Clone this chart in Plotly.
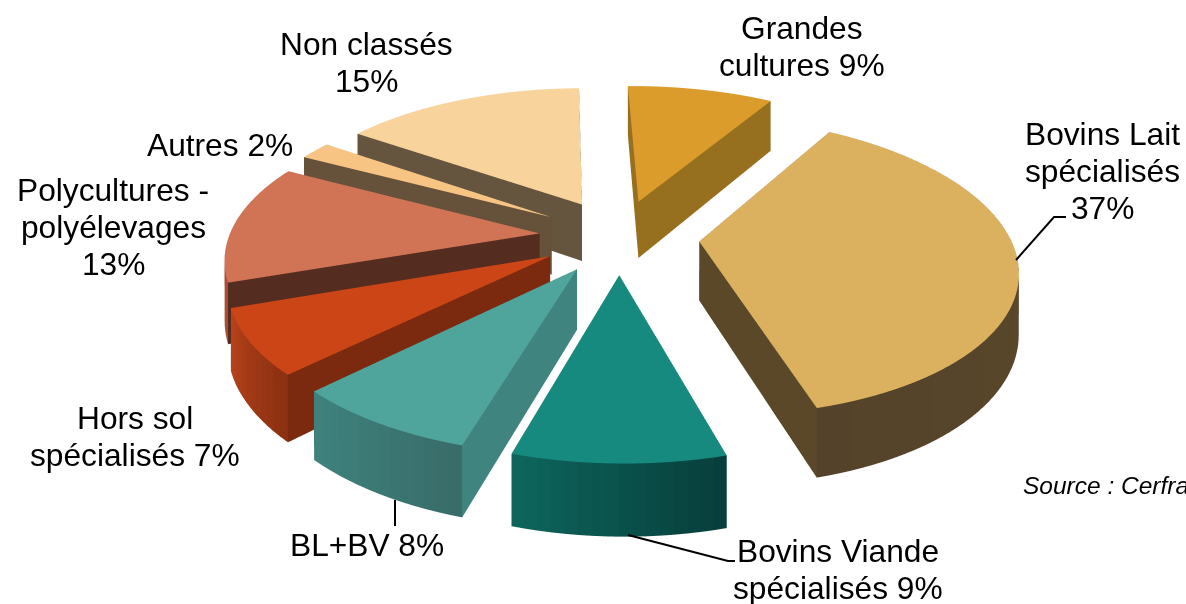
import math
import plotly.graph_objects as go

categories = ["Grandes cultures", "Bovins Lait spécialisés", "Bovins Viande spécialisés", "BL+BV",
              "Hors sol spécialisés", "Polycultures - polyélevages", "Autres", "Non classés"]
shares = [9, 37, 9, 8, 7, 13, 2, 15]
top_colors = ["#DB9C2C", "#DBB15F", "#178A80", "#4FA59C", "#CC4516", "#D17355", "#F7C484", "#F8D49C"]
cut_colors = ["#97701F", "#5A4829", "#0E5F58", "#408480", "#7C2A0F", "#552C20", "#66513A", "#66553E"]
wall_start = ["#97701F", "#5E4C2B", "#073D3A", "#386C69", "#8A3011", "#A84E34", "#B08A58", "#B09870"]
wall_end = ["#97701F", "#54432A", "#0E665D", "#3F837E", "#B8431A", "#A84E34", "#B08A58", "#B09870"]

HEIGHT = 0.04
SHEAR = 0.24
PULL = 0.258
START_DEG = -1


def rgb(h):
    return [int(h[i:i + 2], 16) for i in (1, 3, 5)]


def mix(a, b, t):
    ca, cb = rgb(a), rgb(b)
    return "rgb(%d,%d,%d)" % tuple(round(ca[i] + (cb[i] - ca[i]) * t) for i in range(3))


def wedge(a0, a1, top, cut, w0, w1):
    mid = (a0 + a1) / 2
    ox, oy = PULL * math.sin(mid), PULL * math.cos(mid)
    n = max(2, int((a1 - a0) / math.radians(2)))
    xs, ys, zs, I, J, K, fc = [], [], [], [], [], [], []

    def add(x, y, z):
        xs.append(x + ox)
        ys.append(y + oy)
        zs.append(z)
        return len(xs) - 1

    def ring(level, dy):
        c = add(0, dy, level)
        rim = [add(math.sin(a0 + (a1 - a0) * i / n), math.cos(a0 + (a1 - a0) * i / n) + dy, level) for i in range(n + 1)]
        return c, rim

    top_c, top_rim = ring(HEIGHT, 0.0)
    bot_c, bot_rim = ring(0.0, -SHEAR)
    for i in range(n):
        I.append(top_c); J.append(top_rim[i]); K.append(top_rim[i + 1]); fc.append(top)
        I.append(bot_c); J.append(bot_rim[i]); K.append(bot_rim[i + 1]); fc.append(cut)
        col = mix(w0, w1, (i + .5) / n)
        I += [top_rim[i], top_rim[i + 1]]
        J += [top_rim[i + 1], bot_rim[i + 1]]
        K += [bot_rim[i], bot_rim[i]]
        fc += [col, col]
    for r_t, r_b in ((top_rim[0], bot_rim[0]), (top_rim[-1], bot_rim[-1])):
        I += [top_c, top_c]
        J += [r_t, r_b]
        K += [r_b, bot_c]
        fc += [cut, cut]
    return xs, ys, zs, I, J, K, fc


fig = go.Figure()
total = sum(shares)
angle = math.radians(START_DEG)
for n, name in enumerate(categories):
    a1 = angle + 2 * math.pi * shares[n] / total
    x, y, z, i, j, k, fc = wedge(angle, a1, top_colors[n], cut_colors[n], wall_start[n], wall_end[n])
    fig.add_trace(go.Mesh3d(x=x, y=y, z=z, i=i, j=j, k=k, facecolor=fc, flatshading=True,
                            lighting=dict(ambient=1, diffuse=0, specular=0, roughness=1, fresnel=0),
                            name=name, hovertext=f"{name} {shares[n]}%", hoverinfo="text"))
    angle = a1

axis = dict(visible=False, range=[-1.5, 1.5], autorange=False)
fig.update_layout(
    width=1186, height=604, margin=dict(l=0, r=0, t=0, b=0), showlegend=False,
    paper_bgcolor="white",
    scene=dict(
        domain=dict(x=[0, 1], y=[0, 1]),
        xaxis=axis, yaxis=dict(axis, range=[-2, 2]), zaxis=dict(visible=False, range=[-0.48, 0.52], autorange=False),
        aspectmode="manual", aspectratio=dict(x=1.88, y=1.565, z=1.79),
        camera=dict(eye=dict(x=-0.053, y=-0.9916, z=1.131), center=dict(x=-0.053, y=-0.0886, z=-0.067),
                    up=dict(x=0, y=0, z=1), projection=dict(type="perspective")),
    ),
)

W, H = 1186, 604
LINE = 37
labels = [
    (["Grandes", "cultures 9%"], 802, 28),
    (["Bovins Lait", "spécialisés", "37%"], 1102, 134),
    (["Bovins Viande", "spécialisés 9%"], 838, 551),
    (["BL+BV 8%"], 367, 545),
    (["Hors sol", "spécialisés 7%"], 135, 418),
    (["Polycultures -", "polyélevages", "13%"], 113, 190),
    (["Autres 2%"], 220, 145),
    (["Non classés", "15%"], 366, 44),
]
for lines, px, py in labels:
    for m, text in enumerate(lines):
        fig.add_annotation(text=text, x=px / W, y=1 - (py + m * LINE) / H, xref="paper", yref="paper",
                           showarrow=False, xanchor="center", yanchor="middle", align="center",
                           font=dict(family="Liberation Sans", size=31.7, color="black"))
fig.add_annotation(text="<i>Source : Cerfrance</i>", x=1021 / W, y=1 - 485 / H, xref="paper", yref="paper",
                   showarrow=False, xanchor="left", yanchor="middle",
                   font=dict(family="Liberation Sans", size=24.5, color="black"))

leaders = [[(1016, 260), (1054, 217), (1066, 217)], [(628, 535), (728, 561), (735, 561)], [(395, 500), (395, 526)]]
for pts in leaders:
    path = "M " + " L ".join(f"{px / W:.5f} {1 - py / H:.5f}" for px, py in pts)
    fig.add_shape(type="path", path=path, xref="paper", yref="paper", line=dict(color="black", width=2))

fig.write_html("out.html", config=dict(displayModeBar=False),
               post_script="document.body.style.margin='0';document.body.style.overflow='hidden';")
